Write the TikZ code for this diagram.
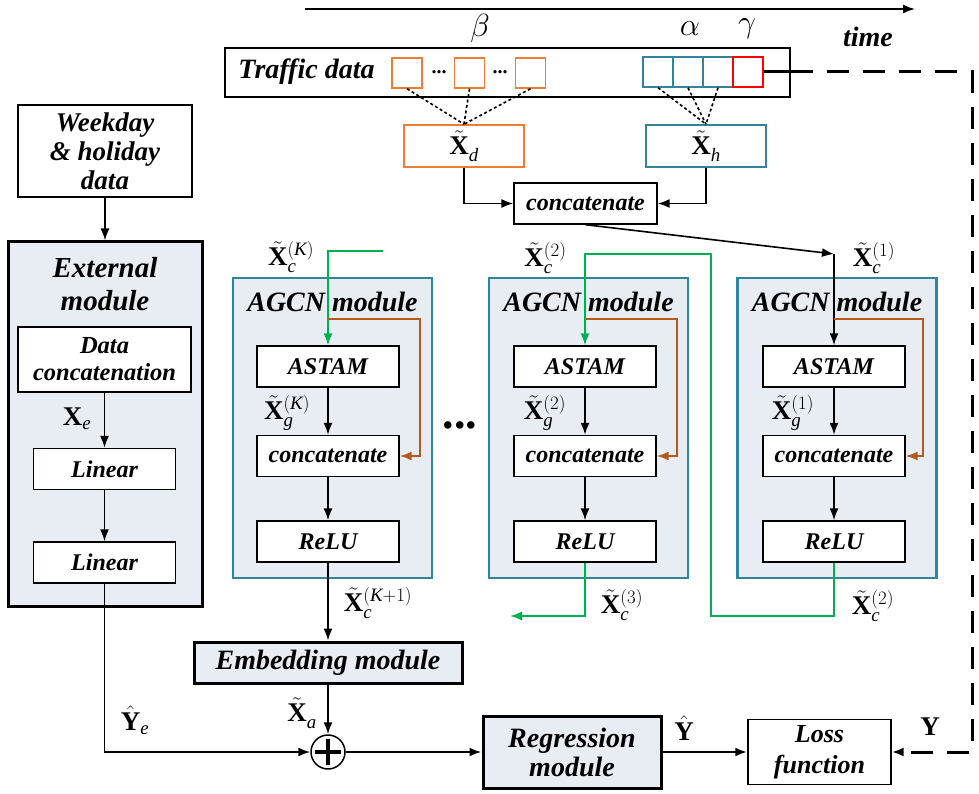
\documentclass[tikz,border=0pt]{standalone}
\usepackage{fix-cm}
\usepackage{fontspec}
\setmainfont{Liberation Serif}
\usetikzlibrary{arrows.meta}
\definecolor{orng}{HTML}{ED7D31}
\definecolor{tealc}{HTML}{31849B}
\definecolor{grn}{HTML}{00B050}
\definecolor{brn}{HTML}{B4581C}
\definecolor{lfill}{HTML}{E8EDF4}
\newcommand{\fs}[1]{\fontsize{#1}{#1}\selectfont}
\newcommand{\XX}[2]{$\tilde{\mathbf{X}}_{\mathit{#1}}^{#2}$}
\begin{document}
\begin{tikzpicture}[x=1pt,y=-1pt,
  >={Latex[length=12pt,width=9pt]},
  line width=1.6pt,
  box/.style={draw, fill=white, line width=1.4pt, inner sep=0pt, align=center, font=\fs{24}\bfseries\itshape},
  sq/.style={draw, fill=white, minimum width=30pt, minimum height=30pt, inner sep=0pt, line width=1.5pt},
  modbox/.style={draw=tealc, fill=lfill, line width=2.8pt, minimum width=199pt, minimum height=300pt, inner sep=0pt},
  bigbox/.style={draw, fill=lfill, line width=3pt, inner sep=0pt, align=center},
  ttl/.style={font=\fs{28}\bfseries\itshape, inner sep=0pt},
  lbl/.style={font=\fs{27}, inner sep=0pt},
  inbox/.style={box, minimum width=142pt, minimum height=41pt},
  dotl/.style={line width=1.6pt, dash pattern=on 3pt off 2.5pt},
  dots/.style={font=\fs{20}\bfseries, inner sep=0pt},
  greek/.style={font=\fs{32}, inner sep=0pt}
]
\useasboundingbox (0,0) rectangle (979,794);

% time axis
\coordinate (t0) at (305,9);
\coordinate (t1) at (915,9);
\draw[->, line width=1.6pt] (t0) -- (t1);
\node[ttl] (time) at (868,37) {time};
\node[greek] (beta) at (480,29) {$\beta$};
\node[greek] (alpha) at (690,29) {$\alpha$};
\node[greek] (gamma) at (747,29) {$\gamma$};

% traffic data
\node[box, minimum width=565pt, minimum height=49pt] (traffic) at (507.5,72.5) {};
\node[ttl] (trtext) at (306.5,72) {Traffic data};
\node[sq, draw=orng] (o1) at (407,73) {};
\node[sq, draw=orng] (o2) at (469.5,73) {};
\node[sq, draw=orng] (o3) at (530.5,73) {};
\node[dots] (d1) at (439,72) {...};
\node[dots] (d2) at (500,72) {...};
\node[sq, draw=tealc] (b1) at (658,72) {};
\node[sq, draw=tealc] (b2) at (688,72) {};
\node[sq, draw=tealc] (b3) at (718,72) {};
\node[sq, draw=red] (rr) at (748,72) {};

% Xd, Xh
\node[draw=orng, fill=white, line width=1.6pt, minimum width=120pt, minimum height=42pt, inner sep=0pt, font=\fs{27}] (xd) at (464,146) {\XX{d}{}};
\node[draw=tealc, fill=white, line width=1.6pt, minimum width=120pt, minimum height=42pt, inner sep=0pt, font=\fs{27}] (xh) at (706,146) {\XX{h}{}};
\draw[dotl] (o1.south) -- (xd.north);
\draw[dotl] (o2.south) -- (xd.north);
\draw[dotl] (o3.south) -- (xd.north);
\draw[dotl] (b1.south) -- (xh.north);
\draw[dotl] (b2.south) -- (xh.north);
\draw[dotl] (b3.south) -- (xh.north);

% top concatenate
\node[box, minimum width=143pt, minimum height=41pt] (cat) at (585.5,203.5) {concatenate};
\draw[->] (xd.south) |- (cat.west);
\draw[->] (xh.south) |- (cat.east);

% AGCN modules
\node[modbox] (mK) at (332.5,428) {};
\node[modbox] (m2) at (588.5,428) {};
\node[modbox] (m1) at (837,428) {};
\node[ttl] (tK) at (332.5,302) {AGCN module};
\node[ttl] (t2) at (588.5,302) {AGCN module};
\node[ttl] (t1m) at (837,302) {AGCN module};

\node[inbox] (aK) at (328,366.5) {ASTAM};
\node[inbox] (cK) at (328,456) {concatenate};
\node[inbox] (rK) at (328,541.5) {ReLU};
\node[inbox] (a2) at (585,366.5) {ASTAM};
\node[inbox] (c2) at (585,456) {concatenate};
\node[inbox] (r2) at (585,541.5) {ReLU};
\node[inbox] (a1) at (834,366.5) {ASTAM};
\node[inbox] (c1) at (834,456) {concatenate};
\node[inbox] (r1) at (834,541.5) {ReLU};

\foreach \m in {K,2,1}{
  \draw[->] (a\m) -- (c\m);
  \draw[->] (c\m) -- (r\m);
}

% inputs
\coordinate (gK) at (383,251);
\draw[grn, ->] (gK) -| (aK.north);
\coordinate (in1) at (834,254);
\draw[->] (cat.south) -- (in1);
\draw[->] (in1) -- (a1.north);
\coordinate (g2a) at (711,616);
\coordinate (g2b) at (711,254);
\draw[grn, ->] (r1.south) |- (g2a) -- (g2b) -| (a2.north);
\coordinate (g3) at (510,616);
\draw[grn, ->] (r2.south) |- (g3);

% brown skip connections
\coordinate (bK) at (328,319);
\coordinate (b2s) at (585,319);
\coordinate (b1s) at (834,319);
\draw[brn, ->] (bK) -- ++(92,0) |- (cK.east);
\draw[brn, ->] (b2s) -- ++(92,0) |- (c2.east);
\draw[brn, ->] (b1s) -- ++(89,0) |- (c1.east);

% labels
\node[lbl] (lcK) at (291,257) {\XX{c}{(\mathit{K})}};
\node[lbl] (lc2) at (545.5,258) {\XX{c}{(2)}};
\node[lbl] (lc1) at (874,258) {\XX{c}{(1)}};
\node[lbl] (lgK) at (287,413) {\XX{g}{(\mathit{K})}};
\node[lbl] (lg2) at (545,413) {\XX{g}{(2)}};
\node[lbl] (lg1) at (793,413) {\XX{g}{(1)}};
\node[lbl] (lcK1) at (378,603) {\XX{c}{(\mathit{K}+1)}};
\node[lbl] (lc3) at (622,605) {\XX{c}{(3)}};
\node[lbl] (lc2b) at (873,606) {\XX{c}{(2)}};

\node[font=\fs{46}\bfseries, inner sep=0pt] (mdots) at (460,425) {...};

% left column
\node[box, minimum width=174pt, minimum height=92pt, font=\fontsize{27}{29}\selectfont\bfseries\itshape] (wk) at (105,151) {Weekday\\\& holiday\\data};
\node[bigbox, minimum width=194pt, minimum height=364pt] (ext) at (105,424) {};
\node[font=\fontsize{29}{33}\selectfont\bfseries\itshape, align=center, inner sep=0pt] (etitle) at (105,284) {External\\module};
\node[box, minimum width=173pt, minimum height=65pt, font=\fontsize{24.5}{27}\selectfont\bfseries\itshape] (dc) at (104.5,359.5) {Data\\concatenation};
\node[inbox] (lin1) at (104.5,469) {Linear};
\node[inbox] (lin2) at (104.5,562.5) {Linear};
\node[lbl] (lxe) at (77,419) {$\mathbf{X}_{\mathit{e}}$};
\draw[->] (wk.south) -- (ext.north);
\draw[->] (dc.south) -- (lin1.north);
\draw[->] (lin1.south) -- (lin2.north);

% bottom
\node[bigbox, minimum width=268pt, minimum height=41pt, font=\fs{28}\bfseries\itshape] (emb) at (328,662.5) {Embedding module};
\node[circle, draw, fill=white, minimum size=34pt, inner sep=0pt, line width=1.5pt] (plus) at (328,752) {};
\draw[line width=3.5pt] ([xshift=-13pt]plus.center) -- ([xshift=13pt]plus.center);
\draw[line width=3.5pt] ([yshift=-13pt]plus.center) -- ([yshift=13pt]plus.center);
\node[bigbox, minimum width=178pt, minimum height=72pt, font=\fontsize{28}{29}\selectfont\bfseries\itshape] (reg) at (572,752) {Regression\\module};
\node[box, minimum width=143pt, minimum height=65pt, font=\fontsize{26}{31}\selectfont\bfseries\itshape] (loss) at (819.5,752) {Loss\\function};

\draw[->] (rK.south) -- (emb.north);
\draw[->] (emb.south) -- (plus.north);
\draw[->] (lin2.south) |- (plus.west);
\draw[->, line width=2.2pt] (plus.east) -- (reg.west);
\draw[->, line width=2.4pt] (reg.east) -- (loss.west);

\node[lbl] (lxa) at (302,713) {\XX{a}{}};
\node[lbl] (lye) at (135,720) {$\hat{\mathbf{Y}}_{\mathit{e}}$};
\node[lbl] (lyh) at (684,728) {$\hat{\mathbf{Y}}$};
\node[lbl] (ly) at (930,727) {$\mathbf{Y}$};

% ground truth dashed feedback
\coordinate (dc1) at (972,72);
\coordinate (dc2) at (972,752);
\draw[line width=3pt] (rr.east) -- (traffic.east |- rr.east);
\draw[line width=3pt, dash pattern=on 22pt off 14pt, ->] (traffic.east |- rr.east) -- (dc1) -- (dc2) -- (loss.east);
\end{tikzpicture}
\end{document}
